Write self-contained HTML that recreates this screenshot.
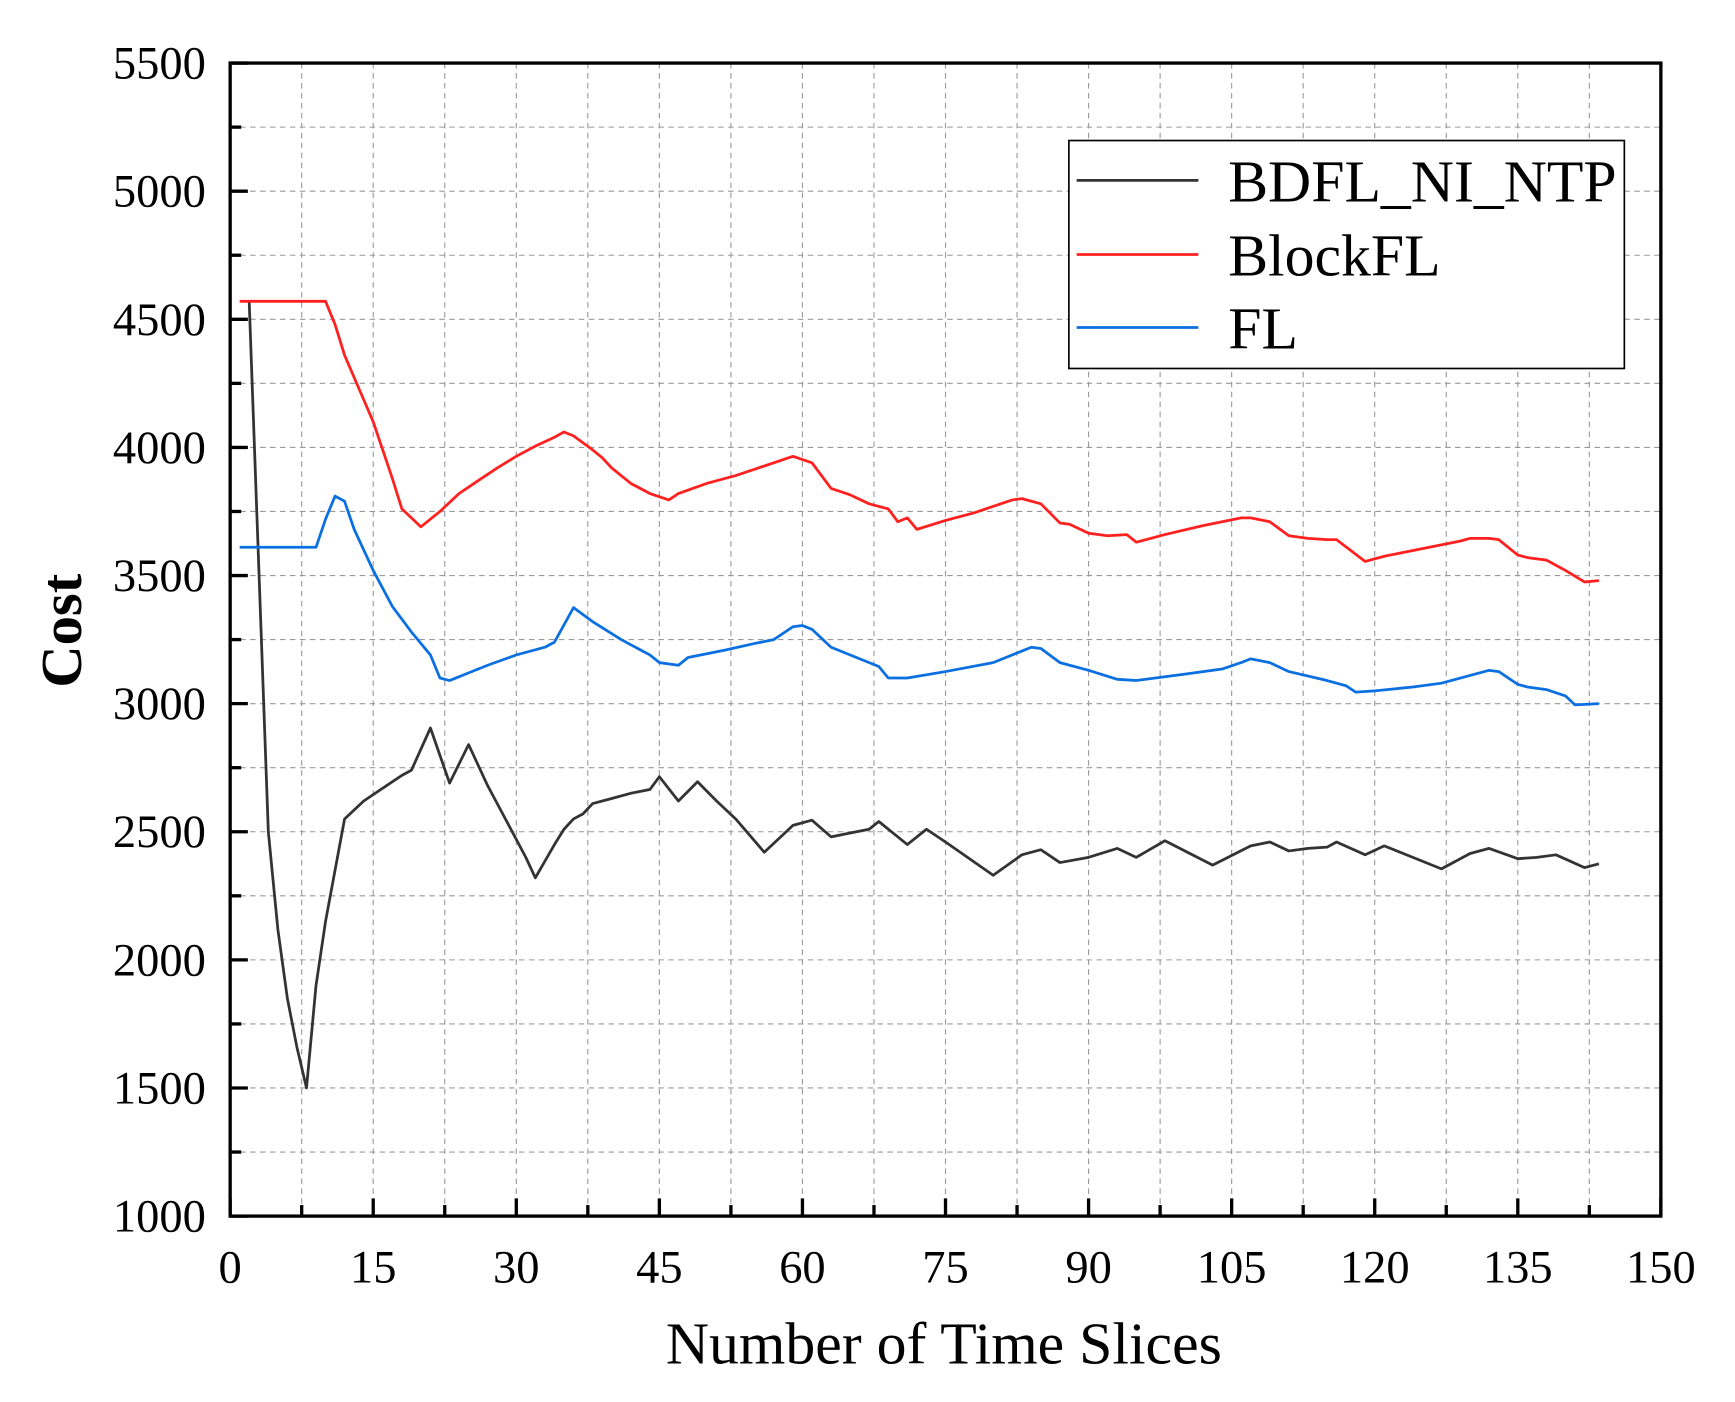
<!DOCTYPE html>
<html><head><meta charset="utf-8"><style>
html,body{margin:0;padding:0;background:#fff}
svg{display:block}
text{font-family:"Liberation Serif",serif;fill:#000}
</style></head><body>
<svg id="chart" width="1735" height="1402" viewBox="0 0 1568 1267" preserveAspectRatio="none" xmlns="http://www.w3.org/2000/svg">
<g id="grid"></g>
<g id="series"></g>
<rect x="208" y="57" width="1293" height="1042" fill="none" stroke="#000" stroke-width="3"/>
<g id="ticks"></g>
<text x="853" y="1232" font-size="54" text-anchor="middle">Number of Time Slices</text>
<text transform="translate(73,570) rotate(-90)" font-size="53" font-weight="bold" text-anchor="middle">Cost</text>
<g>
<rect x="966" y="127" width="502" height="206" fill="#fff" stroke="#000" stroke-width="1.5"/>
<line x1="973" y1="163" x2="1083" y2="163" stroke="#333" stroke-width="2.5"/>
<text x="1110" y="182" font-size="54">BDFL_NI_NTP</text>
<line x1="973" y1="230" x2="1083" y2="230" stroke="#ff2020" stroke-width="2.5"/>
<text x="1110" y="249" font-size="54">BlockFL</text>
<line x1="973" y1="296" x2="1083" y2="296" stroke="#0a6fe0" stroke-width="2.5"/>
<text x="1110" y="315" font-size="54">FL</text>
</g>
</svg>
<script>
const xTicks=[0,15,30,45,60,75,90,105,120,135,150];
const yTicks=[1000,1500,2000,2500,3000,3500,4000,4500,5000,5500];
const bdflX=[2,4,5,6,7,8,9,10,12,14,16,18,19,21,23,25,27,29,31,32,34,35,36,37,38,40,42,44,45,47,49,51,53,56,58,59,61,63,65,67,68,71,73,75,80,83,85,87,90,93,95,98,103,107,109,111,113,115,116,119,121,124,127,130,132,135,137,139,142,143.5];
const bdflY=[4570,2500,2120,1850,1660,1500,1900,2150,2550,2620,2670,2720,2740,2905,2690,2840,2680,2540,2400,2320,2450,2510,2550,2570,2610,2630,2650,2665,2715,2620,2695,2620,2550,2420,2490,2525,2545,2480,2495,2510,2540,2450,2510,2460,2330,2410,2430,2380,2400,2435,2400,2465,2370,2445,2460,2425,2435,2440,2460,2410,2445,2400,2355,2415,2435,2395,2400,2410,2360,2375];
const blockX=[1,10,11,12,15,17,18,20,22,24,26,28,30,32,34,35,36,38,39,40,42,44,46,47,50,53,55,57,59,61,63,65,67,69,70,71,72,75,78,82,83,85,87,88,90,92,94,95,98,102,106,107,109,111,113,115,116,119,121,125,129,130,132,133,135,136,138,140,142,143.5];
const blockY=[4570,4570,4480,4360,4100,3880,3760,3690,3750,3820,3870,3920,3965,4005,4040,4060,4045,3990,3960,3920,3860,3820,3795,3820,3860,3890,3915,3940,3965,3940,3840,3815,3780,3760,3710,3725,3680,3715,3745,3795,3800,3780,3705,3700,3665,3655,3660,3630,3660,3695,3725,3725,3710,3655,3645,3640,3640,3555,3575,3605,3635,3645,3645,3640,3580,3570,3560,3520,3475,3480];
const flX=[1,9,10,11,12,13,15,17,19,21,22,23,25,27,30,33,34,36,38,41,44,45,47,48,52,55,57,59,60,61,63,67,68,69,71,75,80,83,84,85,87,90,93,95,98,100,104,106,107,109,111,115,117,118,120,124,127,130,132,133,135,136,138,140,141,143.5];
const flY=[3610,3610,3720,3810,3790,3680,3520,3380,3280,3190,3100,3090,3120,3150,3190,3220,3240,3375,3320,3250,3190,3160,3150,3180,3210,3235,3250,3300,3305,3290,3220,3160,3145,3100,3100,3125,3160,3205,3220,3215,3160,3130,3095,3090,3105,3115,3135,3160,3175,3160,3125,3090,3070,3045,3050,3065,3080,3110,3130,3125,3075,3065,3055,3030,2995,3000];

const NS="http://www.w3.org/2000/svg";
const X0=208,X1=1501,Y0=1099,Y1=57;
const sx=v=>X0+(v-0)/150*(X1-X0);
const sy=v=>Y0-(v-1000)/4500*(Y0-Y1);
function mk(tag,attrs,parent){const e=document.createElementNS(NS,tag);for(const k in attrs)e.setAttribute(k,attrs[k]);parent.appendChild(e);return e;}
const grid=document.getElementById('grid'),ticks=document.getElementById('ticks'),series=document.getElementById('series');
for(let v=0;v<=150;v+=7.5){
  if(v>0&&v<150){const l=mk('line',{x1:sx(v),x2:sx(v),y1:Y1,y2:Y0,stroke:'#999','stroke-width':1,'stroke-dasharray':'5,4'},grid);
  
  }
  const major=v%15===0;
  const t=mk('line',{x1:sx(v),x2:sx(v),y1:Y0,y2:Y0-(major?16:10),stroke:'#000','stroke-width':3},ticks);
  
  
}
for(let v=1000;v<=5500;v+=250){
  if(v>1000&&v<5500){const l=mk('line',{x1:X0,x2:X1,y1:sy(v),y2:sy(v),stroke:'#999','stroke-width':1,'stroke-dasharray':'5,4'},grid);
  
  }
  const major=v%500===0;
  const t=mk('line',{x1:X0,x2:X0+(major?16:10),y1:sy(v),y2:sy(v),stroke:'#000','stroke-width':3},ticks);
  
  
}
xTicks.forEach(v=>{const t=mk('text',{x:sx(v),y:1159,'font-size':42,'text-anchor':'middle'},ticks);t.textContent=v;
  
  });
yTicks.forEach(v=>{const t=mk('text',{x:186,y:sy(v)+14,'font-size':42,'text-anchor':'end'},ticks);t.textContent=v;
  
  });
function draw(xs,ys,color,name){
  const d=xs.map((x,i)=>(i?'L':'M')+sx(x).toFixed(1)+','+sy(ys[i]).toFixed(1)).join('');
  const p=mk('path',{d:d,fill:'none',stroke:color,'stroke-width':2.5,'stroke-linejoin':'round'},series);
  
  
}
draw(bdflX,bdflY,'#333','line-bdfl-ni-ntp');
draw(blockX,blockY,'#ff2020','line-blockfl');
draw(flX,flY,'#0a6fe0','line-fl');
</script>
</body></html>
